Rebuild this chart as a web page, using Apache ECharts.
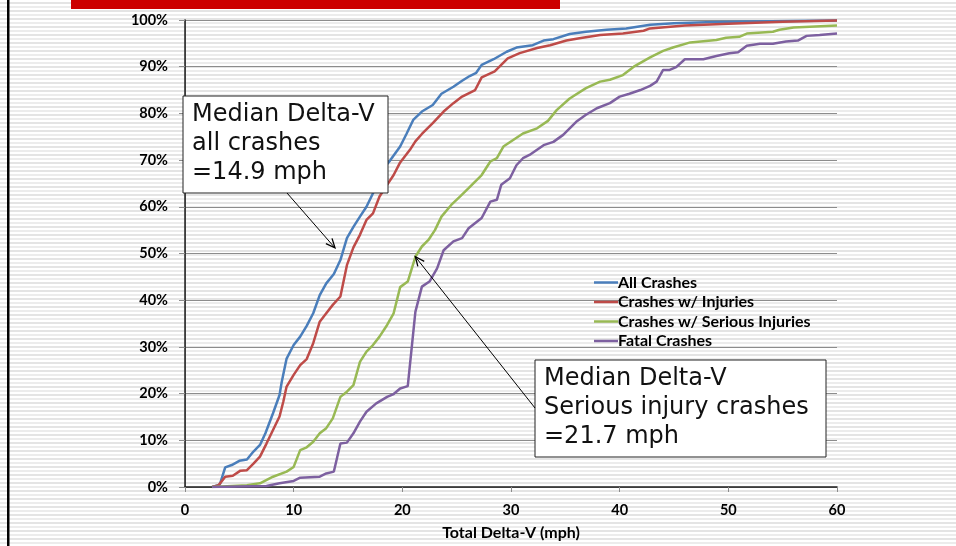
<!DOCTYPE html>
<html>
<head>
    <meta charset="utf-8">
    <title>Delta-V CDF</title>
    <script src="https://cdn.jsdelivr.net/npm/echarts@6/dist/echarts.min.js"></script>
    <style>
        html, body { margin: 0; padding: 0; }
        body {
            width: 956px; height: 546px; overflow: hidden;
            background: repeating-linear-gradient(to bottom,
                #ffffff 0px, #ffffff 2px, #e4e4e4 2px, #e4e4e4 4px,
                #ffffff 4px, #ffffff 6.5px, #ececec 6.5px, #ececec 8px);
        }
    </style>
</head>
<body>
    <div id="main" style="width: 956px;height:546px;"></div>
    <script type="text/javascript">
        // delta-v (mph), cumulative share (%)
        var allCrashes = [[2.5,0],[3.2,0.5],[3.7,4.2],[4.3,4.7],[5.0,5.6],[5.7,5.9],[6.3,7.6],[6.9,9.0],[7.4,11.5],[8.1,15.8],[8.7,19.7],[8.9,22.5],[9.35,27.5],[10.0,30.4],[10.6,32.2],[11.2,34.5],[11.8,37.2],[12.4,41.1],[13.0,43.6],[13.7,45.6],[14.3,48.6],[14.9,53.3],[15.5,55.7],[16.1,57.9],[16.7,60.0],[17.3,62.9],[17.9,67.2],[18.9,70.0],[19.8,72.9],[20.4,75.7],[21.0,78.6],[21.8,80.4],[22.8,81.8],[23.6,84.2],[24.7,85.7],[25.5,87.0],[26.2,88.0],[26.8,88.7],[27.3,90.4],[28.4,91.6],[29.6,93.2],[30.5,94.1],[32.0,94.6],[33.0,95.6],[33.9,95.9],[35.4,97.0],[36.9,97.5],[38.8,97.9],[40.6,98.2],[42.8,99.0],[45,99.3],[48,99.5],[52,99.7],[56,99.8],[60,99.9]];
        var injuryCrashes = [[2.5,0],[3.1,0.4],[3.7,2.2],[4.4,2.4],[5.1,3.5],[5.7,3.6],[6.3,5.0],[6.9,6.5],[7.5,9.3],[8.1,12.2],[8.7,15.1],[9.05,18.3],[9.35,21.5],[10.0,24.0],[10.6,26.1],[11.2,27.4],[11.8,30.8],[12.4,35.4],[13.0,37.2],[13.6,39.0],[14.3,40.8],[14.9,47.5],[15.5,51.3],[16.1,54.0],[16.7,57.2],[17.3,58.6],[17.9,62.2],[18.6,64.7],[19.2,66.8],[19.8,69.5],[20.7,72.2],[21.2,74.0],[21.8,75.6],[22.8,77.9],[23.8,80.4],[24.7,82.2],[25.5,83.6],[26.7,85.0],[27.3,87.7],[28.5,89.0],[29.7,91.8],[30.8,92.9],[32.4,94.0],[33.6,94.6],[35.1,95.6],[36.3,96.1],[38.2,96.8],[40.3,97.1],[42.2,97.7],[42.8,98.2],[46,98.8],[50,99.2],[55,99.6],[60,99.9]];
        var seriousCrashes = [[2.5,0],[5.7,0.4],[6.9,0.8],[8.1,2.2],[9.35,3.3],[10.0,4.3],[10.6,7.9],[11.2,8.5],[11.8,9.7],[12.4,11.5],[13.0,12.6],[13.6,14.7],[14.3,19.3],[14.9,20.4],[15.5,21.8],[16.1,26.8],[16.7,29.0],[17.3,30.4],[17.9,32.2],[18.6,34.7],[19.2,37.2],[19.8,42.8],[20.5,44.0],[21.2,49.3],[21.8,51.5],[22.4,52.9],[23.0,55.0],[23.6,57.9],[24.5,60.4],[25.3,62.2],[26.1,64.0],[27.3,66.8],[28.1,69.7],[28.7,70.4],[29.3,72.9],[30.2,74.3],[31.1,75.7],[32.4,76.8],[33.4,78.4],[34.2,80.7],[35.4,83.2],[36.9,85.4],[38.2,86.8],[39.1,87.2],[40.3,88.2],[41.3,90.0],[42.8,92.0],[44.0,93.4],[44.9,94.1],[46.5,95.2],[48.9,95.7],[49.8,96.2],[51.0,96.4],[51.7,97.1],[54.1,97.5],[54.7,97.9],[56.0,98.4],[60,98.8]];
        var fatalCrashes = [[2.5,0],[7.5,0.2],[8.7,0.8],[10.0,1.3],[10.6,2.0],[12.4,2.2],[13.0,2.9],[13.7,3.3],[14.3,9.3],[14.9,9.5],[15.5,11.5],[16.1,14.0],[16.7,16.1],[17.6,17.9],[18.6,19.3],[19.2,19.9],[19.8,21.1],[20.5,21.6],[21.2,37.5],[21.8,42.9],[22.5,44.0],[23.2,46.8],[23.8,50.7],[24.7,52.6],[25.5,53.3],[26.1,55.4],[27.3,57.6],[28.1,61.1],[28.7,61.5],[29.1,64.7],[29.9,66.1],[30.5,68.9],[31.1,70.4],[31.7,71.1],[33.0,73.2],[33.9,73.9],[34.8,75.4],[36.0,78.2],[36.9,79.7],[37.9,81.1],[39.1,82.2],[40.0,83.6],[40.9,84.2],[41.9,85.0],[42.8,85.9],[43.4,86.8],[44.0,89.3],[44.6,89.3],[45.2,89.9],[46.0,91.6],[47.7,91.6],[48.9,92.3],[50.1,92.9],[50.9,93.1],[51.7,94.5],[52.9,94.9],[54.1,94.9],[55.3,95.4],[56.4,95.6],[57.2,96.6],[58.4,96.8],[60,97.1]];

        var seriesNames = ['All Crashes', 'Crashes w/ Injuries', 'Crashes w/ Serious Injuries', 'Fatal Crashes'];
        var seriesColors = ['#4a7ebb', '#be4b48', '#98b954', '#7d60a0'];
        var seriesData = [allCrashes, injuryCrashes, seriousCrashes, fatalCrashes];

        // annotation texts and where the arrows point (mph, %)
        var noteAll = ['Median Delta-V', 'all crashes', '=14.9 mph'];
        var noteSerious = ['Median Delta-V', 'Serious injury crashes', '=21.7 mph'];
        var arrowAllTip = [13.8, 51.2];
        var arrowSeriousTip = [21.2, 49.3];

        var myChart = echarts.init(document.getElementById('main'));

        var labelFont = { fontFamily: 'Lato', fontWeight: 'bold', fontSize: 14.5, color: '#000' };

        var option = {
            animation: false,
            grid: { left: 185, right: 119, top: 20, bottom: 59, outerBoundsMode: 'none', containLabel: false },
            legend: {
                data: seriesNames,
                orient: 'vertical',
                left: 589,
                top: 269.5,
                icon: 'rect',
                itemWidth: 24,
                itemHeight: 2.5,
                itemGap: 3.5,
                textStyle: { fontFamily: 'Lato', fontWeight: 'bold', fontSize: 16, color: '#000', padding: [0, 0, 0, -5], lineHeight: 16 }
            },
            xAxis: [{
                type: 'value',
                min: 0, max: 60, interval: 10,
                axisLine: { lineStyle: { color: '#8c8c8c', width: 1 } },
                axisTick: { length: 5, lineStyle: { color: '#8c8c8c' } },
                axisLabel: Object.assign({ margin: 16 }, labelFont),
                splitLine: { show: false },
                name: 'Total Delta-V (mph)',
                nameLocation: 'middle',
                nameGap: 38,
                nameTextStyle: { fontFamily: 'Lato', fontWeight: 'bold', fontSize: 16, color: '#000' }
            }, {
                type: 'value', position: 'top',
                min: 0, max: 60,
                axisLine: { lineStyle: { color: '#222', width: 1.5 } },
                axisTick: { show: false }, axisLabel: { show: false }, splitLine: { show: false }
            }],
            yAxis: [{
                type: 'value',
                min: 0, max: 100, interval: 10,
                axisLine: { show: true, lineStyle: { color: '#8c8c8c', width: 1 } },
                axisTick: { show: true, length: 6, lineStyle: { color: '#8c8c8c' } },
                axisLabel: Object.assign({ margin: 17, formatter: '{value}%' }, labelFont),
                splitLine: { lineStyle: { color: '#8c8c8c', width: 1 } }
            }, {
                type: 'value', position: 'right',
                min: 0, max: 100,
                axisLine: { show: true, lineStyle: { color: '#222', width: 1.5 } },
                axisTick: { show: false }, axisLabel: { show: false }, splitLine: { show: false }
            }],
            series: seriesData.map(function (d, i) {
                return {
                    name: seriesNames[i],
                    type: 'line',
                    showSymbol: false,
                    symbol: 'none',
                    color: seriesColors[i],
                    lineStyle: { width: 2.5, color: seriesColors[i] },
                    data: d,
                    z: 3
                };
            })
        };
        myChart.setOption(option);

        // box + arrow annotations
        function arrow(from, to) {
            var ang = Math.atan2(to[1] - from[1], to[0] - from[0]);
            var len = 10, spread = 0.42;
            var a1 = [to[0] - len * Math.cos(ang - spread), to[1] - len * Math.sin(ang - spread)];
            var a2 = [to[0] - len * Math.cos(ang + spread), to[1] - len * Math.sin(ang + spread)];
            return [{
                type: 'line', z: 20,
                shape: { x1: from[0], y1: from[1], x2: to[0], y2: to[1] },
                style: { stroke: '#000', lineWidth: 1 }
            }, {
                type: 'polyline', z: 20,
                shape: { points: [a1, to, a2] },
                style: { stroke: '#000', lineWidth: 1.3, fill: null }
            }];
        }
        function noteBox(x, y, w, h, lines) {
            return [{
                type: 'rect', z: 20,
                shape: { x: x, y: y, width: w, height: h },
                style: { fill: '#fff', stroke: '#222', lineWidth: 1 }
            }, {
                type: 'text', z: 21,
                x: x + 9, y: y + 4,
                style: {
                    text: lines.join('\n'),
                    font: '24px "DejaVu Sans"',
                    lineHeight: 29,
                    fill: '#111',
                    verticalAlign: 'top'
                }
            }];
        }

        var tip1 = myChart.convertToPixel({ gridIndex: 0 }, arrowAllTip);
        var tip2 = myChart.convertToPixel({ gridIndex: 0 }, arrowSeriousTip);

        var graphics = [
            { type: 'rect', z: 30, shape: { x: 71, y: 0, width: 489, height: 9 }, style: { fill: '#cc0000' } },
            { type: 'rect', z: 30, shape: { x: 7, y: 0, width: 2.5, height: 546 }, style: { fill: '#000' } }
        ];
        graphics = graphics
            .concat(noteBox(183, 96, 205, 97, noteAll))
            .concat(arrow([287, 193], tip1))
            .concat(noteBox(535, 360, 291, 97, noteSerious))
            .concat(arrow([535, 408], tip2));

        myChart.setOption({ graphic: graphics });
    </script>
</body>
</html>
